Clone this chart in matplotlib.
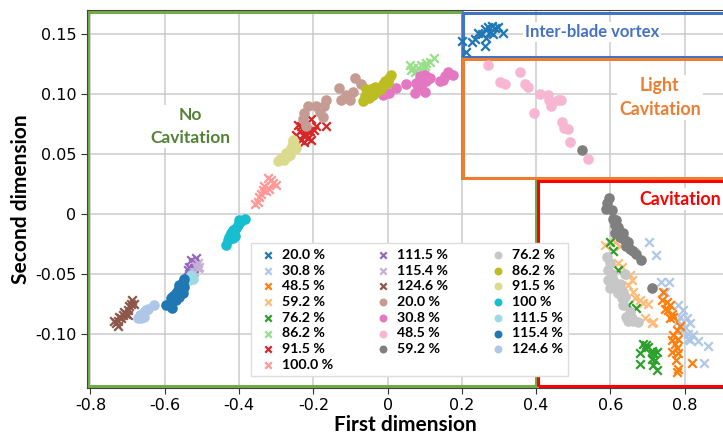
import matplotlib.pyplot as plt
from matplotlib.patches import Polygon, Rectangle

plt.rcParams["axes.unicode_minus"] = False

# ---- crosses (first group of runs) ----
cross_labels = ["20.0 %", "30.8 %", "48.5 %", "59.2 %", "76.2 %", "86.2 %",
                "91.5 %", "100.0 %", "111.5 %", "115.4 %", "124.6 %"]

cx_200 = [0.199, 0.212, 0.226, 0.234, 0.243, 0.253, 0.261, 0.266, 0.270, 0.275, 0.280, 0.288, 0.297, 0.311, 0.261, 0.284]
cy_200 = [0.144, 0.135, 0.143, 0.146, 0.151, 0.150, 0.154, 0.147, 0.156, 0.152, 0.157, 0.155, 0.156, 0.151, 0.140, 0.150]

cx_308 = [0.704, 0.722, 0.735, 0.757, 0.747, 0.782, 0.796, 0.787, 0.805, 0.814, 0.801, 0.792, 0.809, 0.823, 0.814, 0.836, 0.809, 0.852, 0.782, 0.862]
cy_308 = [-0.023, -0.034, -0.057, -0.057, -0.065, -0.076, -0.080, -0.086, -0.087, -0.091, -0.094, -0.097, -0.100, -0.101, -0.105, -0.106, -0.104, -0.124, -0.089, -0.110]

cx_485 = [0.742, 0.738, 0.751, 0.760, 0.747, 0.755, 0.765, 0.760, 0.769, 0.778, 0.769, 0.765, 0.782, 0.774, 0.778, 0.765, 0.782, 0.776, 0.782, 0.780, 0.819, 0.787]
cy_485 = [-0.065, -0.072, -0.073, -0.076, -0.079, -0.080, -0.083, -0.087, -0.086, -0.097, -0.101, -0.105, -0.104, -0.108, -0.112, -0.115, -0.116, -0.122, -0.129, -0.132, -0.124, -0.093]

cx_592 = [0.585, 0.612, 0.625, 0.621, 0.630, 0.652, 0.657, 0.648, 0.661, 0.666, 0.679, 0.688, 0.702, 0.693, 0.715, 0.711]
cy_592 = [-0.026, -0.023, -0.027, -0.041, -0.044, -0.051, -0.055, -0.059, -0.065, -0.070, -0.072, -0.074, -0.075, -0.087, -0.090, -0.091]

cx_762 = [0.598, 0.606, 0.621, 0.648, 0.670, 0.688, 0.697, 0.679, 0.693, 0.711, 0.715, 0.724, 0.711, 0.720, 0.715, 0.679, 0.724, 0.702]
cy_762 = [-0.023, -0.031, -0.047, -0.076, -0.078, -0.108, -0.109, -0.116, -0.112, -0.114, -0.116, -0.115, -0.121, -0.122, -0.126, -0.125, -0.130, -0.111]

cx_862 = [0.059, 0.064, 0.073, 0.082, 0.091, 0.100, 0.104, 0.113, 0.124, 0.068, 0.095, 0.086]
cy_862 = [0.124, 0.120, 0.118, 0.122, 0.124, 0.123, 0.126, 0.127, 0.130, 0.122, 0.119, 0.115]

cx_915 = [-0.242, -0.233, -0.237, -0.228, -0.224, -0.219, -0.215, -0.210, -0.233, -0.224, -0.206, -0.192, -0.197, -0.165, -0.246, -0.219, -0.206]
cy_915 = [0.074, 0.073, 0.069, 0.066, 0.065, 0.067, 0.063, 0.069, 0.062, 0.060, 0.079, 0.073, 0.070, 0.073, 0.066, 0.070, 0.062]

cx_1000 = [-0.323, -0.309, -0.300, -0.332, -0.336, -0.340, -0.327, -0.345, -0.318, -0.350, -0.356, -0.313]
cy_1000 = [0.030, 0.026, 0.024, 0.023, 0.020, 0.017, 0.019, 0.014, 0.021, 0.010, 0.008, 0.028]

cx_1115 = [-0.529, -0.525, -0.520, -0.534, -0.520, -0.529, -0.538, -0.525, -0.534, -0.516]
cy_1115 = [-0.038, -0.041, -0.040, -0.044, -0.045, -0.048, -0.047, -0.051, -0.052, -0.037]

cx_1154 = [-0.516, -0.511, -0.520, -0.507, -0.511]
cy_1154 = [-0.043, -0.045, -0.048, -0.044, -0.041]

cx_1246 = [-0.687, -0.691, -0.695, -0.700, -0.704, -0.713, -0.718, -0.727, -0.731, -0.709, -0.722, -0.736, -0.682, -0.700, -0.727]
cy_1246 = [-0.072, -0.075, -0.077, -0.080, -0.083, -0.084, -0.087, -0.089, -0.091, -0.082, -0.086, -0.089, -0.075, -0.084, -0.093]

# ---- circles (second group of runs) ----
dot_labels = ["20.0 %", "30.8 %", "48.5 %", "59.2 %", "76.2 %", "86.2 %",
              "91.5 %", "100 %", "111.5 %", "115.4 %", "124.6 %"]

ox_200 = [-0.089, -0.071, -0.131, -0.094, -0.125, -0.102, -0.165, -0.170, -0.192, -0.215, -0.224, -0.228, -0.174, -0.219, -0.183, -0.111]
oy_200 = [0.113, 0.108, 0.105, 0.102, 0.095, 0.095, 0.095, 0.090, 0.090, 0.090, 0.084, 0.079, 0.081, 0.073, 0.085, 0.099]

ox_308 = [-0.013, 0.005, 0.023, 0.050, 0.073, 0.082, 0.077, 0.086, 0.100, 0.104, 0.100, 0.113, 0.140, 0.149, 0.163, 0.176, 0.154, 0.091]
oy_308 = [0.099, 0.101, 0.105, 0.108, 0.101, 0.104, 0.109, 0.115, 0.116, 0.111, 0.102, 0.113, 0.111, 0.112, 0.118, 0.116, 0.115, 0.106]

ox_485 = [0.270, 0.356, 0.302, 0.315, 0.369, 0.378, 0.410, 0.432, 0.434, 0.439, 0.459, 0.468, 0.394, 0.470, 0.475, 0.486, 0.491, 0.540]
oy_485 = [0.124, 0.118, 0.110, 0.108, 0.108, 0.106, 0.100, 0.099, 0.095, 0.090, 0.095, 0.095, 0.084, 0.077, 0.072, 0.071, 0.060, 0.046]

ox_592 = [0.596, 0.591, 0.588, 0.603, 0.607, 0.616, 0.612, 0.621, 0.625, 0.634, 0.630, 0.639, 0.648, 0.643, 0.652, 0.661, 0.670, 0.681, 0.612, 0.625, 0.713, 0.524]
oy_592 = [0.013, 0.009, 0.004, 0.003, -0.004, -0.005, -0.009, -0.011, -0.015, -0.016, -0.020, -0.022, -0.023, -0.027, -0.029, -0.031, -0.033, -0.038, -0.016, -0.019, -0.062, 0.053]

ox_762 = [0.590, 0.598, 0.594, 0.603, 0.594, 0.598, 0.612, 0.625, 0.634, 0.621, 0.630, 0.639, 0.634, 0.652, 0.643, 0.657, 0.661, 0.675, 0.648, 0.639, 0.607, 0.625]
oy_762 = [-0.036, -0.041, -0.047, -0.050, -0.055, -0.062, -0.061, -0.062, -0.065, -0.066, -0.070, -0.069, -0.076, -0.082, -0.086, -0.087, -0.089, -0.090, -0.089, -0.050, -0.055, -0.058]

ox_862 = [-0.067, -0.062, -0.053, -0.044, -0.035, -0.026, -0.017, -0.013, -0.008, 0.001, 0.005, 0.010, -0.057, -0.030, -0.040, -0.049]
oy_862 = [0.094, 0.098, 0.101, 0.104, 0.106, 0.105, 0.104, 0.108, 0.111, 0.109, 0.113, 0.116, 0.104, 0.102, 0.099, 0.097]

ox_915 = [-0.255, -0.251, -0.260, -0.246, -0.264, -0.269, -0.278, -0.296, -0.287, -0.273, -0.255, -0.264]
oy_915 = [0.062, 0.058, 0.055, 0.055, 0.052, 0.048, 0.045, 0.044, 0.047, 0.051, 0.059, 0.049]

ox_1000 = [-0.385, -0.394, -0.404, -0.408, -0.417, -0.421, -0.426, -0.412, -0.430, -0.435, -0.399, -0.417]
oy_1000 = [-0.004, -0.006, -0.009, -0.012, -0.013, -0.016, -0.019, -0.018, -0.022, -0.026, -0.005, -0.020]

ox_1115 = [-0.529, -0.534, -0.525]
oy_1115 = [-0.051, -0.055, -0.054]

ox_1154 = [-0.547, -0.552, -0.561, -0.556, -0.565, -0.570, -0.574, -0.583, -0.570, -0.552, -0.561, -0.596, -0.581, -0.547, -0.579]
oy_1154 = [-0.054, -0.057, -0.059, -0.062, -0.063, -0.066, -0.069, -0.070, -0.072, -0.066, -0.069, -0.076, -0.078, -0.061, -0.068]

ox_1246 = [-0.628, -0.646, -0.655, -0.660, -0.664, -0.673, -0.655, -0.668, -0.650]
oy_1246 = [-0.076, -0.079, -0.082, -0.084, -0.087, -0.087, -0.086, -0.084, -0.080]

cross_x = [cx_200, cx_308, cx_485, cx_592, cx_762, cx_862, cx_915, cx_1000, cx_1115, cx_1154, cx_1246]
cross_y = [cy_200, cy_308, cy_485, cy_592, cy_762, cy_862, cy_915, cy_1000, cy_1115, cy_1154, cy_1246]
dot_x = [ox_200, ox_308, ox_485, ox_592, ox_762, ox_862, ox_915, ox_1000, ox_1115, ox_1154, ox_1246]
dot_y = [oy_200, oy_308, oy_485, oy_592, oy_762, oy_862, oy_915, oy_1000, oy_1115, oy_1154, oy_1246]

colors = plt.get_cmap("tab20").colors

fig = plt.figure(figsize=(7.23, 4.36), dpi=100)
ax = fig.add_axes([0.120, 0.110, 0.880, 0.867])

n = 0
for xs, ys, lab in zip(cross_x, cross_y, cross_labels):
    ax.scatter(xs, ys, marker="x", s=38, linewidths=1.6, color=colors[n % 20], label=lab, zorder=3)
    n += 1
for xs, ys, lab in zip(dot_x, dot_y, dot_labels):
    ax.scatter(xs, ys, marker="o", s=58, linewidths=0, color=colors[n % 20], label=lab, zorder=3)
    n += 1

ax.set_xlim(-0.81, 0.903)
ax.set_ylim(-0.145, 0.170)
ax.set_xticks([-0.8, -0.6, -0.4, -0.2, 0, 0.2, 0.4, 0.6, 0.8])
ax.set_xticklabels(["-0.8", "-0.6", "-0.4", "-0.2", "0", "0.2", "0.4", "0.6", "0.8"])
ax.set_yticks([-0.10, -0.05, 0, 0.05, 0.10, 0.15])
ax.set_yticklabels(["-0.10", "-0.05", "0", "0.05", "0.10", "0.15"])
ax.tick_params(labelsize=11.5, length=4, color="#333333")
ax.grid(True, color="#cccccc", linewidth=1.1, zorder=0)
ax.set_axisbelow(True)
ax.spines["right"].set_visible(False)
for side in ["left", "bottom", "top"]:
    ax.spines[side].set_color("#444444")

# region boxes
green = "#70ad47"
ax.add_patch(Polygon([(-0.806, -0.1435), (-0.806, 0.1685), (0.2, 0.1685), (0.2, 0.030),
                      (0.4, 0.030), (0.4, -0.1435)], closed=True, fill=False,
                     edgecolor=green, linewidth=2.2, zorder=2))
ax.add_patch(Rectangle((0.202, 0.131), 0.8, 0.0365, fill=False, edgecolor="#4472c4",
                       linewidth=2.2, zorder=2))
ax.add_patch(Rectangle((0.202, 0.030), 0.8, 0.099, fill=False, edgecolor="#ed7d31",
                       linewidth=2.2, zorder=2))
ax.add_patch(Rectangle((0.405, -0.1435), 0.8, 0.171, fill=False, edgecolor="#ff0000",
                       linewidth=2.2, zorder=2))

box = dict(facecolor="white", edgecolor="none", pad=1.5)
ax.text(-0.531, 0.073, "No\nCavitation", color="#538135", fontsize=12.5, fontweight="bold",
        family="Lato", ha="center", va="center", linespacing=1.5, bbox=box, zorder=2)
ax.text(0.551, 0.1515, "Inter-blade vortex", color="#4472c4", fontsize=12, fontweight="bold",
        family="Lato", ha="center", va="center", bbox=box, zorder=2)
ax.text(0.733, 0.097, "Light\nCavitation", color="#ed7d31", fontsize=12.8, fontweight="bold",
        family="Lato", ha="center", va="center", linespacing=1.5, bbox=box, zorder=2)
ax.text(0.787, 0.0125, "Cavitation", color="#ff0000", fontsize=12.8, fontweight="bold",
        family="Lato", ha="center", va="center", bbox=box, zorder=2)

ax.set_xlabel("First dimension", fontsize=15, fontweight="bold", family="Lato", labelpad=1)
ax.set_ylabel("Second dimension", fontsize=15, fontweight="bold", family="Lato", labelpad=3)

leg = ax.legend(ncol=3, loc="upper left", bbox_to_anchor=(0.247, 0.402), fancybox=False,
                framealpha=1, edgecolor="#dddddd", prop={"family": "Lato", "weight": "bold", "size": 10.2},
                labelspacing=0.26, columnspacing=2.7, handletextpad=0.2, handlelength=1.6,
                borderpad=0.4, markerscale=0.75)
leg.set_zorder(5)

fig.savefig("out.png", dpi=100)
